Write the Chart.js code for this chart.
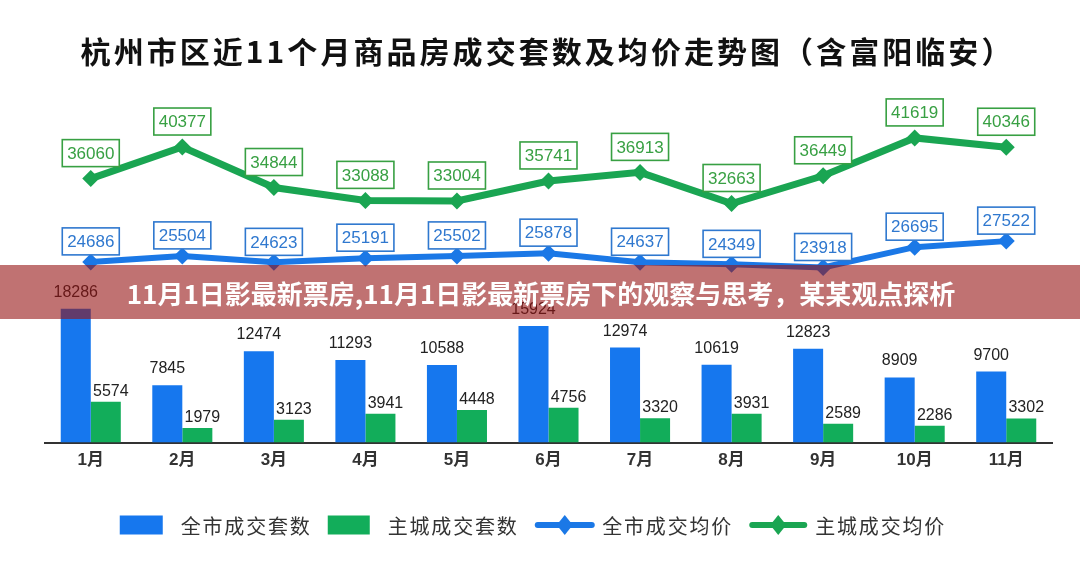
<!DOCTYPE html>
<html><head><meta charset="utf-8">
<script src="https://cdn.jsdelivr.net/npm/chart.js@4.4.1/dist/chart.umd.min.js"></script>
<style>html,body{margin:0;padding:0;background:#fff}#wrap{width:1080px;height:586px;position:relative}</style>
</head><body><div id="wrap"><canvas id="c"></canvas></div>
<script>
const months = ['1月','2月','3月','4月','5月','6月','7月','8月','9月','10月','11月'];
const cityUnits = [18286,7845,12474,11293,10588,15924,12974,10619,12823,8909,9700];
const mainUnits = [5574,1979,3123,3941,4448,4756,3320,3931,2589,2286,3302];
const cityPrice = [24686,25504,24623,25191,25502,25878,24637,24349,23918,26695,27522];
const mainPrice = [36060,40377,34844,33088,33004,35741,36913,32663,36449,41619,40346];
const seriesNames = ['全市成交套数','主城成交套数','全市成交均价','主城成交均价'];
const titleText = '杭州市区近11个月商品房成交套数及均价走势图（含富阳临安）';
const bannerText = '11月1日影最新票房,11月1日影最新票房下的观察与思考，某某观点探析';
const yMax = 46800;

const C = {
  blueBar:'#1677EE', greenBar:'#12AD5A',
  blueLine:'#1B78E6', greenLine:'#1AA552',
  blueLbl:'#2F78CF', greenLbl:'#38A043'
};
const CJK = '"Noto Sans CJK SC", sans-serif';
const NUM = '"Liberation Sans", Arial, "Noto Sans CJK SC", sans-serif';

function spacedWidth(ctx, text, sp){ let w=0, n=0; for(const ch of text){ w+=ctx.measureText(ch).width; n++; } return w + sp*(n-1); }
function drawSpaced(ctx, text, x, y, sp){ for(const ch of text){ ctx.fillText(ch, x, y); x += ctx.measureText(ch).width + sp; } }

const decor = {
  id:'decor',
  afterDatasetsDraw(chart){
    const ctx = chart.ctx;
    ctx.save();
    ctx.font = '16px ' + NUM;
    ctx.fillStyle = '#222'; ctx.textAlign = 'center'; ctx.textBaseline = 'alphabetic';
    chart.getDatasetMeta(0).data.forEach((b,i)=>ctx.fillText(String(cityUnits[i]), b.x, b.y-12));
    chart.getDatasetMeta(1).data.forEach((b,i)=>ctx.fillText(String(mainUnits[i]), b.x+5, b.y-6));
    const specs = [[2, cityPrice, C.blueLbl, 20.5], [3, mainPrice, C.greenLbl, 25.5]];
    ctx.font = '17px ' + NUM; ctx.textBaseline = 'middle';
    for(const [idx, vals, col, off] of specs){
      chart.getDatasetMeta(idx).data.forEach((p,i)=>{
        const w=57, h=27, cx=p.x, cy=p.y-off;
        ctx.fillStyle='#fff'; ctx.fillRect(cx-w/2, cy-h/2, w, h);
        ctx.strokeStyle=col; ctx.lineWidth=1.6; ctx.strokeRect(cx-w/2, cy-h/2, w, h);
        ctx.fillStyle=col; ctx.fillText(String(vals[i]), cx, cy+1);
      });
    }
    ctx.restore();
  },
  afterDraw(chart){
    const ctx = chart.ctx;
    const W = chart.width;
    ctx.save();
    // title
    ctx.font = 'bold 30px ' + CJK;
    ctx.fillStyle = '#111'; ctx.textAlign='left'; ctx.textBaseline='middle';
    let sp = 3.05, tw = spacedWidth(ctx, titleText, sp);
    drawSpaced(ctx, titleText, 546 - tw/2, 52, sp);
    // banner
    ctx.fillStyle = 'rgba(150,20,20,0.6)';
    ctx.fillRect(0, 265, W, 54);
    ctx.font = 'bold 26px ' + CJK;
    ctx.fillStyle = '#fff';
    tw = spacedWidth(ctx, bannerText, 0);
    drawSpaced(ctx, bannerText, 541 - tw/2, 294, 0);
    // legend
    ctx.font = '20px ' + CJK;
    const lsp = 1.8;
    const items = [
      {type:'rect', col:C.blueBar, w:43, gap:18},
      {type:'rect', col:C.greenBar, w:42, gap:18},
      {type:'line', col:C.blueLine, w:60, gap:7.5},
      {type:'line', col:C.greenLine, w:58, gap:8}
    ];
    const itemGap = 18;
    let total = 0;
    items.forEach((it,i)=>{ it.tw = spacedWidth(ctx, seriesNames[i], lsp); total += it.w + it.gap + it.tw + (i<items.length-1?itemGap:0); });
    let x = 532 - total/2; const ly = 525;
    items.forEach((it,i)=>{
      if(it.type==='rect'){
        ctx.fillStyle = it.col; ctx.fillRect(x, ly-9.5, it.w, 19);
      } else {
        ctx.strokeStyle = it.col; ctx.lineWidth = 6; ctx.lineCap='round';
        ctx.beginPath(); ctx.moveTo(x+3, ly); ctx.lineTo(x+it.w-3, ly); ctx.stroke();
        const cx = x + it.w/2;
        ctx.fillStyle = it.col; ctx.beginPath();
        ctx.moveTo(cx, ly-10); ctx.lineTo(cx+8, ly); ctx.lineTo(cx, ly+10); ctx.lineTo(cx-8, ly); ctx.closePath(); ctx.fill();
      }
      x += it.w + it.gap;
      ctx.fillStyle = '#333';
      drawSpaced(ctx, seriesNames[i], x, ly+1, lsp);
      x += it.tw + itemGap;
    });
    ctx.restore();
  }
};

new Chart(document.getElementById('c'), {
  data: {
    labels: months,
    datasets: [
      {type:'bar', label:seriesNames[0], data:cityUnits, backgroundColor:C.blueBar, order:2, categoryPercentage:0.656, barPercentage:1},
      {type:'bar', label:seriesNames[1], data:mainUnits, backgroundColor:C.greenBar, order:2, categoryPercentage:0.656, barPercentage:1},
      {type:'line', label:seriesNames[2], data:cityPrice, borderColor:C.blueLine, backgroundColor:C.blueLine, borderWidth:6,
        pointStyle:'rectRot', pointRadius:8.5, pointBorderWidth:0, pointBackgroundColor:C.blueLine, tension:0, order:1, clip:false},
      {type:'line', label:seriesNames[3], data:mainPrice, borderColor:C.greenLine, backgroundColor:C.greenLine, borderWidth:7,
        pointStyle:'rectRot', pointRadius:8.5, pointBorderWidth:0, pointBackgroundColor:C.greenLine, tension:0, order:0, clip:false}
    ]
  },
  options: {
    responsive:true, maintainAspectRatio:false, animation:false,
    layout:{padding:{left:45, right:28, top:100, bottom:107}},
    plugins:{legend:{display:false}, tooltip:{enabled:false}, title:{display:false}},
    scales:{
      x:{grid:{display:false, drawTicks:false}, border:{display:true, color:'#333', width:2},
         ticks:{color:'#333', padding:8, font:{family:NUM, size:17, weight:'bold'}}},
      y:{display:false, min:0, max:yMax}
    }
  },
  plugins:[decor]
});
</script></body></html>
